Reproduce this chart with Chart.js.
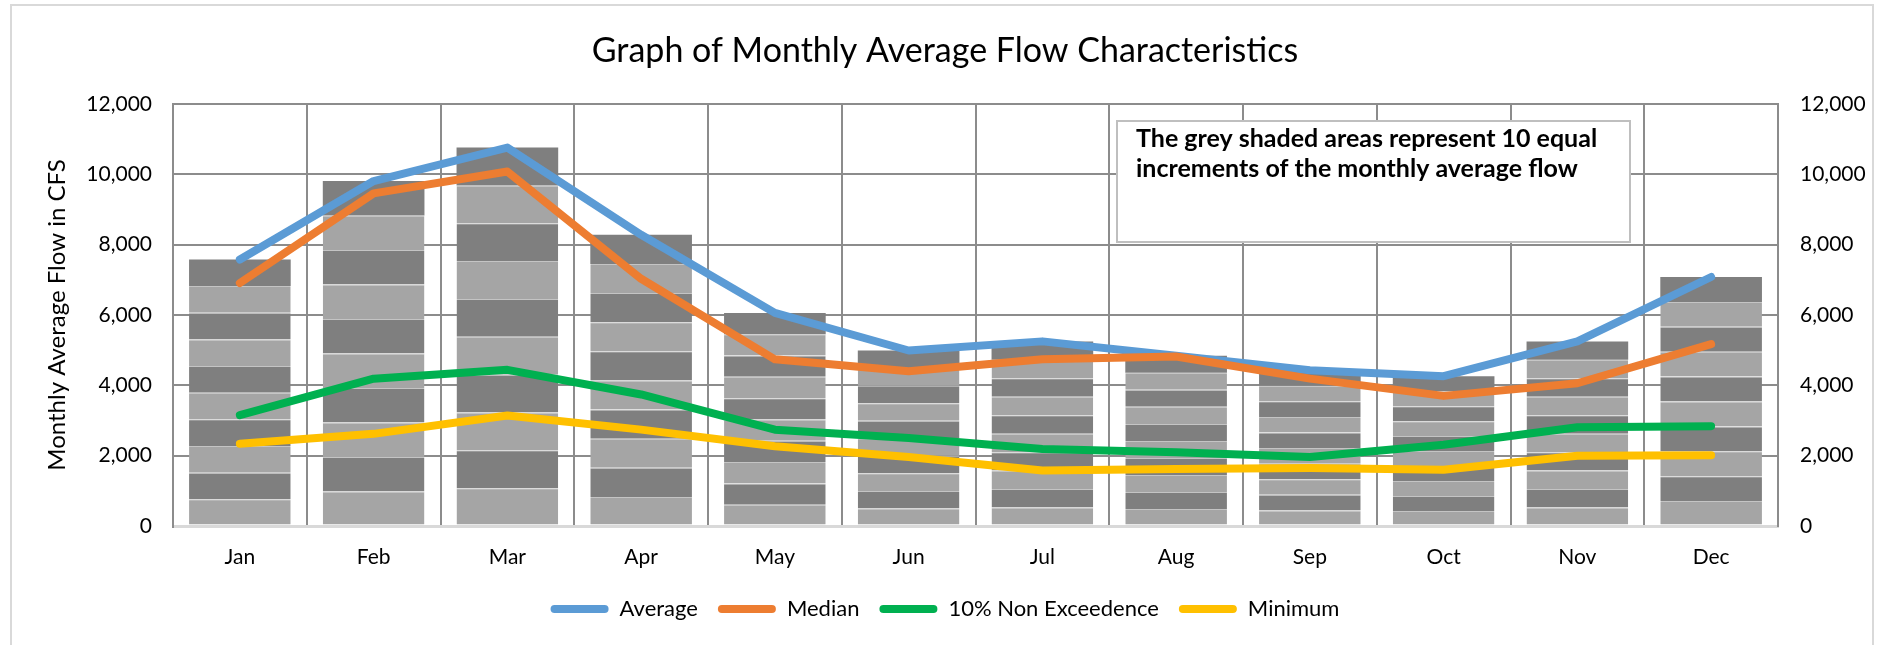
<!DOCTYPE html>
<html>
<head>
<meta charset="utf-8">
<title>Graph of Monthly Average Flow Characteristics</title>
<script src="https://cdn.jsdelivr.net/npm/chart.js@4.4.0/dist/chart.umd.min.js"></script>
<style>
  html, body { margin: 0; padding: 0; background: #fff; }
  #wrap { width: 1890px; height: 645px; }
</style>
</head>
<body>
<div id="wrap"><canvas id="flowChart" width="1890" height="645"></canvas></div>
<script>
/* ── data ── */
const MONTHS        = ['Jan', 'Feb', 'Mar', 'Apr', 'May', 'Jun', 'Jul', 'Aug', 'Sep', 'Oct', 'Nov', 'Dec'];
const AVERAGE       = [7580, 9810, 10760, 8280, 6060, 4990, 5250, 4840, 4430, 4260, 5250, 7080];
const MEDIAN        = [6910, 9460, 10080, 7030, 4740, 4400, 4740, 4820, 4190, 3700, 4060, 5170];
const NON_EXCEED_10 = [3150, 4190, 4440, 3740, 2740, 2500, 2190, 2100, 1960, 2310, 2810, 2840];
const MINIMUM       = [2340, 2620, 3140, 2740, 2270, 1960, 1580, 1620, 1650, 1600, 2000, 2010];
const Y_TICKS       = [0, 2000, 4000, 6000, 8000, 10000, 12000];
const INCREMENTS    = 10;
const NOTE_LINES    = ['The grey shaded areas represent 10 equal', 'increments of the monthly average flow'];

const GRID  = '#8c8c8c';
const LIGHT = '#a5a5a5';
const DARK  = '#7f7f7f';
const FONT  = 'Lato, "Open Sans", sans-serif';

Chart.defaults.font.family = FONT;
Chart.defaults.color = '#000';

const LINES = [
  { label: 'Average',             data: AVERAGE,       color: '#5b9bd5' },
  { label: 'Median',              data: MEDIAN,        color: '#ed7d31' },
  { label: '10% Non Exceedence',  data: NON_EXCEED_10, color: '#00b050' },
  { label: 'Minimum',             data: MINIMUM,       color: '#ffc000' }
];

const datasets = LINES.map((l, i) => ({
  type: 'line',
  label: l.label,
  data: l.data,
  borderColor: l.color,
  backgroundColor: l.color,
  borderWidth: 8,
  borderCapStyle: 'round',
  borderJoinStyle: 'round',
  pointRadius: 0,
  tension: 0,
  yAxisID: 'y2',
  order: LINES.length - 1 - i   // later series drawn on top, like Excel
}));

// 10 stacked slices, each one tenth of the monthly average
for (let k = 0; k < INCREMENTS; k++) {
  datasets.push({
    type: 'bar',
    label: 'Increment ' + (k + 1),
    data: AVERAGE.map(v => v / INCREMENTS),
    backgroundColor: k % 2 === 0 ? LIGHT : DARK,
    borderColor: '#c4c4c4',
    borderWidth: k < INCREMENTS - 1 ? { top: 1, right: 0, bottom: 0, left: 0 } : 0,
    borderSkipped: false,
    barPercentage: 0.76,
    categoryPercentage: 1,
    stack: 'flow',
    yAxisID: 'y',
    order: 10
  });
}

function fixedTicks(scale) {
  scale.ticks = Y_TICKS.map(v => ({ value: v }));
}

const frame = {
  id: 'frame',
  beforeDraw(chart) {
    const ctx = chart.ctx;
    ctx.save();
    ctx.fillStyle = '#fff';
    ctx.fillRect(0, 0, chart.width, chart.height);
    ctx.strokeStyle = '#d9d9d9';
    ctx.lineWidth = 2;
    ctx.strokeRect(11, 5, 1862, 700);
    ctx.restore();
  }
};

const noteBox = {
  id: 'noteBox',
  afterDraw(chart) {
    const ctx = chart.ctx;
    ctx.save();
    ctx.fillStyle = '#fff';
    ctx.fillRect(1117, 121, 513, 121);
    ctx.strokeStyle = '#bfbfbf';
    ctx.lineWidth = 2;
    ctx.strokeRect(1117, 121, 513, 121);
    ctx.fillStyle = '#000';
    ctx.font = 'bold 25px ' + FONT;
    ctx.textBaseline = 'middle';
    NOTE_LINES.forEach((t, i) => ctx.fillText(t, 1136, 139 + i * 30));
    ctx.restore();
  }
};

new Chart(document.getElementById('flowChart'), {
  data: { labels: MONTHS, datasets },
  plugins: [frame, noteBox],
  options: {
    responsive: false,
    animation: false,
    devicePixelRatio: 1,
    layout: { padding: { top: 0, left: 0, right: 0, bottom: 15 } },
    plugins: {
      tooltip: { enabled: false },
      title: {
        display: true,
        text: 'Graph of Monthly Average Flow Characteristics',
        color: '#000',
        font: { size: 34, weight: 'normal' },
        padding: { top: 31, bottom: 32.2 }
      },
      legend: {
        position: 'bottom',
        labels: {
          boxWidth: 58,
          boxHeight: 8,
          useBorderRadius: true,
          borderRadius: 4,
          padding: 20,
          color: '#000',
          font: { size: 22 },
          sort: (a, b) => a.datasetIndex - b.datasetIndex,
          generateLabels: chart =>
            Chart.defaults.plugins.legend.labels.generateLabels(chart)
              .filter(it => it.datasetIndex < LINES.length)
              .map(it => Object.assign(it, { lineWidth: 0 }))
        }
      }
    },
    scales: {
      x: {
        stacked: true,
        offset: true,
        grid: { offset: true, color: GRID, lineWidth: 2, drawTicks: false },
        border: { color: '#d9d9d9', width: 3 },
        ticks: { font: { size: 21 }, padding: 19 },
        afterFit: s => { s.height = 52; }
      },
      y: {
        stacked: true,
        min: 0,
        max: 12000,
        afterBuildTicks: fixedTicks,
        grid: {
          color: c => (c.tick && c.tick.value === 0 ? '#d9d9d9' : GRID),
          lineWidth: c => (c.tick && c.tick.value === 0 ? 3 : 2),
          drawTicks: false
        },
        border: { color: GRID, width: 2 },
        ticks: { font: { size: 21 }, padding: 21 },
        title: {
          display: true,
          text: 'Monthly Average Flow in CFS',
          color: '#000',
          font: { size: 24 },
          padding: { top: 43, bottom: 0 }
        },
        afterFit: s => { s.width = 173; }
      },
      y2: {
        position: 'right',
        min: 0,
        max: 12000,
        afterBuildTicks: fixedTicks,
        grid: { display: false, drawTicks: false },
        border: { color: GRID, width: 2 },
        ticks: { font: { size: 21 }, padding: 22 },
        afterFit: s => { s.width = 112; }
      }
    }
  }
});
</script>
</body>
</html>
